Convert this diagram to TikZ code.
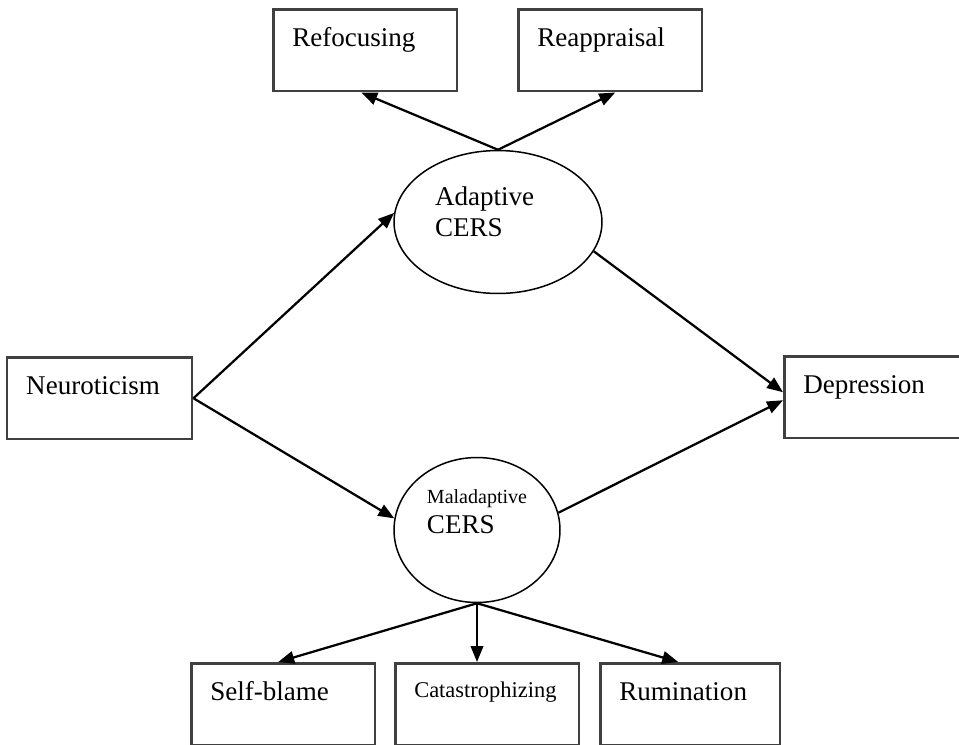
\documentclass[tikz,border=0pt]{standalone}
\usepackage{fontspec}
\setmainfont{Liberation Serif}
\usetikzlibrary{shapes,arrows.meta,calc,positioning}
\definecolor{boxline}{gray}{0.25}
\newcommand{\bigtxt}{\fontsize{15.4}{18.2}\selectfont}
\newcommand{\smalltxt}{\fontsize{11.4}{13}\selectfont}
\newcommand{\midtxt}{\fontsize{12.8}{15}\selectfont}

\begin{document}
\begin{tikzpicture}[x=0.02cm, y=-0.02cm, font=\bigtxt,
        box/.style={draw=boxline, line width=0.05cm, anchor=north west, align=left, inner xsep=0.38cm, inner ysep=0.38cm, text width=#1, text height=0.36cm, text depth=0.52cm},
        cers/.style={draw, ellipse, line width=0.03cm, align=left, inner sep=0pt},
        arr/.style={-{Triangle[length=0.32cm,width=0.25cm]}, line width=0.045cm}]
        \useasboundingbox (0,0) rectangle (959,744);
        \node (refoc) [box=2.92cm] at (272,8) {Refocusing};
        \node (reapp) [box=2.92cm] at (517,8) {Reappraisal};
        \node (neuro) [box=2.94cm] at (6,356) {Neuroticism};
        \node (depr)  [box=2.80cm] at (783,355) {Depression};
        \node (selfb) [box=2.92cm] at (190,662) {Self-blame};
        \node (catas) [box=2.92cm, font=\midtxt, text height=0.30cm, text depth=0.58cm] at (394,662) {Catastrophizing};
        \node (rumin) [box=2.84cm] at (599,662) {Rumination};
        \node (adapt) [cers, minimum width=4.16cm, minimum height=2.86cm, text width=2.52cm, text height=0.36cm, text depth=1.04cm] at (498,222) {Adaptive\\CERS};
        \node (malad) [cers, minimum width=3.32cm, minimum height=2.9cm, text height=0.82cm, text depth=0.70cm] at (477,530) {{\smalltxt Maladaptive}\\[-1.5pt]CERS};
        % paths
        \draw[arr] (adapt.north) -- ($(refoc.south)+(-4,0)$);
        \draw[arr] (adapt.north) -- ($(reapp.south)+(5,0)$);
        \draw[arr] (neuro.east) -- (adapt.175);
        \draw[arr] (neuro.east) -- (malad.172);
        \draw[arr] (adapt.-17) -- ($(depr.west)+(0,-5)$);
        \draw[arr] (malad.12) -- ($(depr.west)+(0,3)$);
        \draw[arr] (malad.south) -- ($(selfb.north)+(-5,0)$);
        \draw[arr] (malad.south) -- (malad.south |- catas.north);
        \draw[arr] (malad.south) -- ($(rumin.north)+(-12,0)$);
\end{tikzpicture}
\end{document}
